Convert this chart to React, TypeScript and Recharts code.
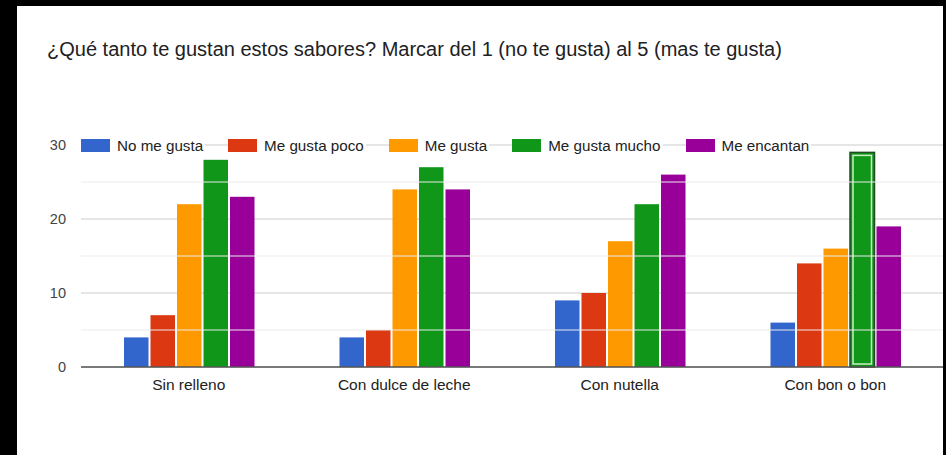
import { Bar, BarChart, CartesianGrid, ReferenceLine, XAxis, YAxis } from "recharts";

const categories = ["Sin relleno", "Con dulce de leche", "Con nutella", "Con bon o bon"];
const noMeGusta = [4, 4, 9, 6];
const meGustaPoco = [7, 5, 10, 14];
const meGusta = [22, 24, 17, 16];
const meGustaMucho = [28, 27, 22, 29];
const meEncantan = [23, 24, 26, 19];
const seriesNames = ["No me gusta", "Me gusta poco", "Me gusta", "Me gusta mucho", "Me encantan"];
const seriesColors = ["#3366cc", "#dc3912", "#ff9900", "#109618", "#990099"];
const yTicks = [0, 10, 20, 30];
const minorTicks = [5, 15, 25];
const highlighted = { series: 3, index: 3 };

const title = "¿Qué tanto te gustan estos sabores? Marcar del 1 (no te gusta) al 5 (mas te gusta)";

const allSeries = [noMeGusta, meGustaPoco, meGusta, meGustaMucho, meEncantan];
const data = categories.map((name, i) => {
  const row: Record<string, string | number> = { name };
  seriesNames.forEach((s, k) => {
    row[s] = allSeries[k][i];
  });
  return row;
});

const FONT = "'Liberation Sans', Arial, sans-serif";

// legend drawn as html over the 30 gridline, white boxes hide the line behind each item
function LegendRow() {
  return (
    <div
      style={{
        position: "absolute",
        left: 81,
        top: 138,
        display: "flex",
        gap: 23,
        fontFamily: FONT,
        fontSize: 15.2,
        color: "#222",
      }}
    >
      {seriesNames.map((s, k) => (
        <div key={s} style={{ display: "flex", alignItems: "center", background: "#fff", paddingRight: 2 }}>
          <span style={{ width: 29, height: 13, background: seriesColors[k], display: "inline-block" }} />
          <span style={{ marginLeft: 7, lineHeight: "15px" }}>{s}</span>
        </div>
      ))}
    </div>
  );
}

export default function App() {
  return (
    <div
      style={{
        position: "fixed",
        left: 0,
        top: 0,
        width: 946,
        height: 455,
        background: "#000",
        overflow: "hidden",
      }}
    >
      <div
        style={{ position: "absolute", left: 17, top: 6, width: 926, height: 449, background: "#fff" }}
      />
      <div
        style={{
          position: "absolute",
          left: 47,
          top: 38,
          fontFamily: FONT,
          fontSize: 20,
          color: "#202124",
          whiteSpace: "nowrap",
        }}
      >
        {title}
      </div>
      <div style={{ position: "absolute", left: 0, top: 0 }}>
        <BarChart
          width={946}
          height={455}
          data={data}
          margin={{ top: 145, right: 3, bottom: 58, left: 0 }}
          barGap={2}
          barSize={24.5}
        >
          <CartesianGrid vertical={false} stroke="#cccccc" />
          {minorTicks.map((v) => (
            <ReferenceLine key={v} y={v} stroke="#ebebeb" />
          ))}
          <XAxis
            dataKey="name"
            height={30}
            tickLine={false}
            tickSize={0}
            tickMargin={12}
            axisLine={{ stroke: "#555", strokeWidth: 1.5 }}
            tick={{ fill: "#222", fontSize: 15.5, fontFamily: FONT }}
          />
          <YAxis
            width={81}
            domain={[0, 30]}
            ticks={yTicks}
            axisLine={false}
            tickLine={false}
            tickSize={0}
            tickMargin={15}
            tick={{ fill: "#444", fontSize: 14.5, fontFamily: FONT }}
          />
          {seriesNames.map((s, k) => (
            <Bar
              key={s}
              dataKey={s}
              fill={seriesColors[k]}
              isAnimationActive={false}
              shape={(props: any) => {
                const { x, y, width, height, index } = props;
                if (k === highlighted.series && index === highlighted.index) {
                  return (
                    <g>
                      <rect x={x} y={y} width={width} height={height} fill={seriesColors[k]} stroke="#1e4d22" strokeWidth={1.5} />
                      <rect x={x + 3} y={y + 3} width={width - 6} height={height - 6} fill="none" stroke="#c9efc4" strokeWidth={1.5} />
                    </g>
                  );
                }
                return <rect x={x} y={y} width={width} height={height} fill={seriesColors[k]} />;
              }}
            />
          ))}
        </BarChart>
      </div>
      <LegendRow />
    </div>
  );
}
